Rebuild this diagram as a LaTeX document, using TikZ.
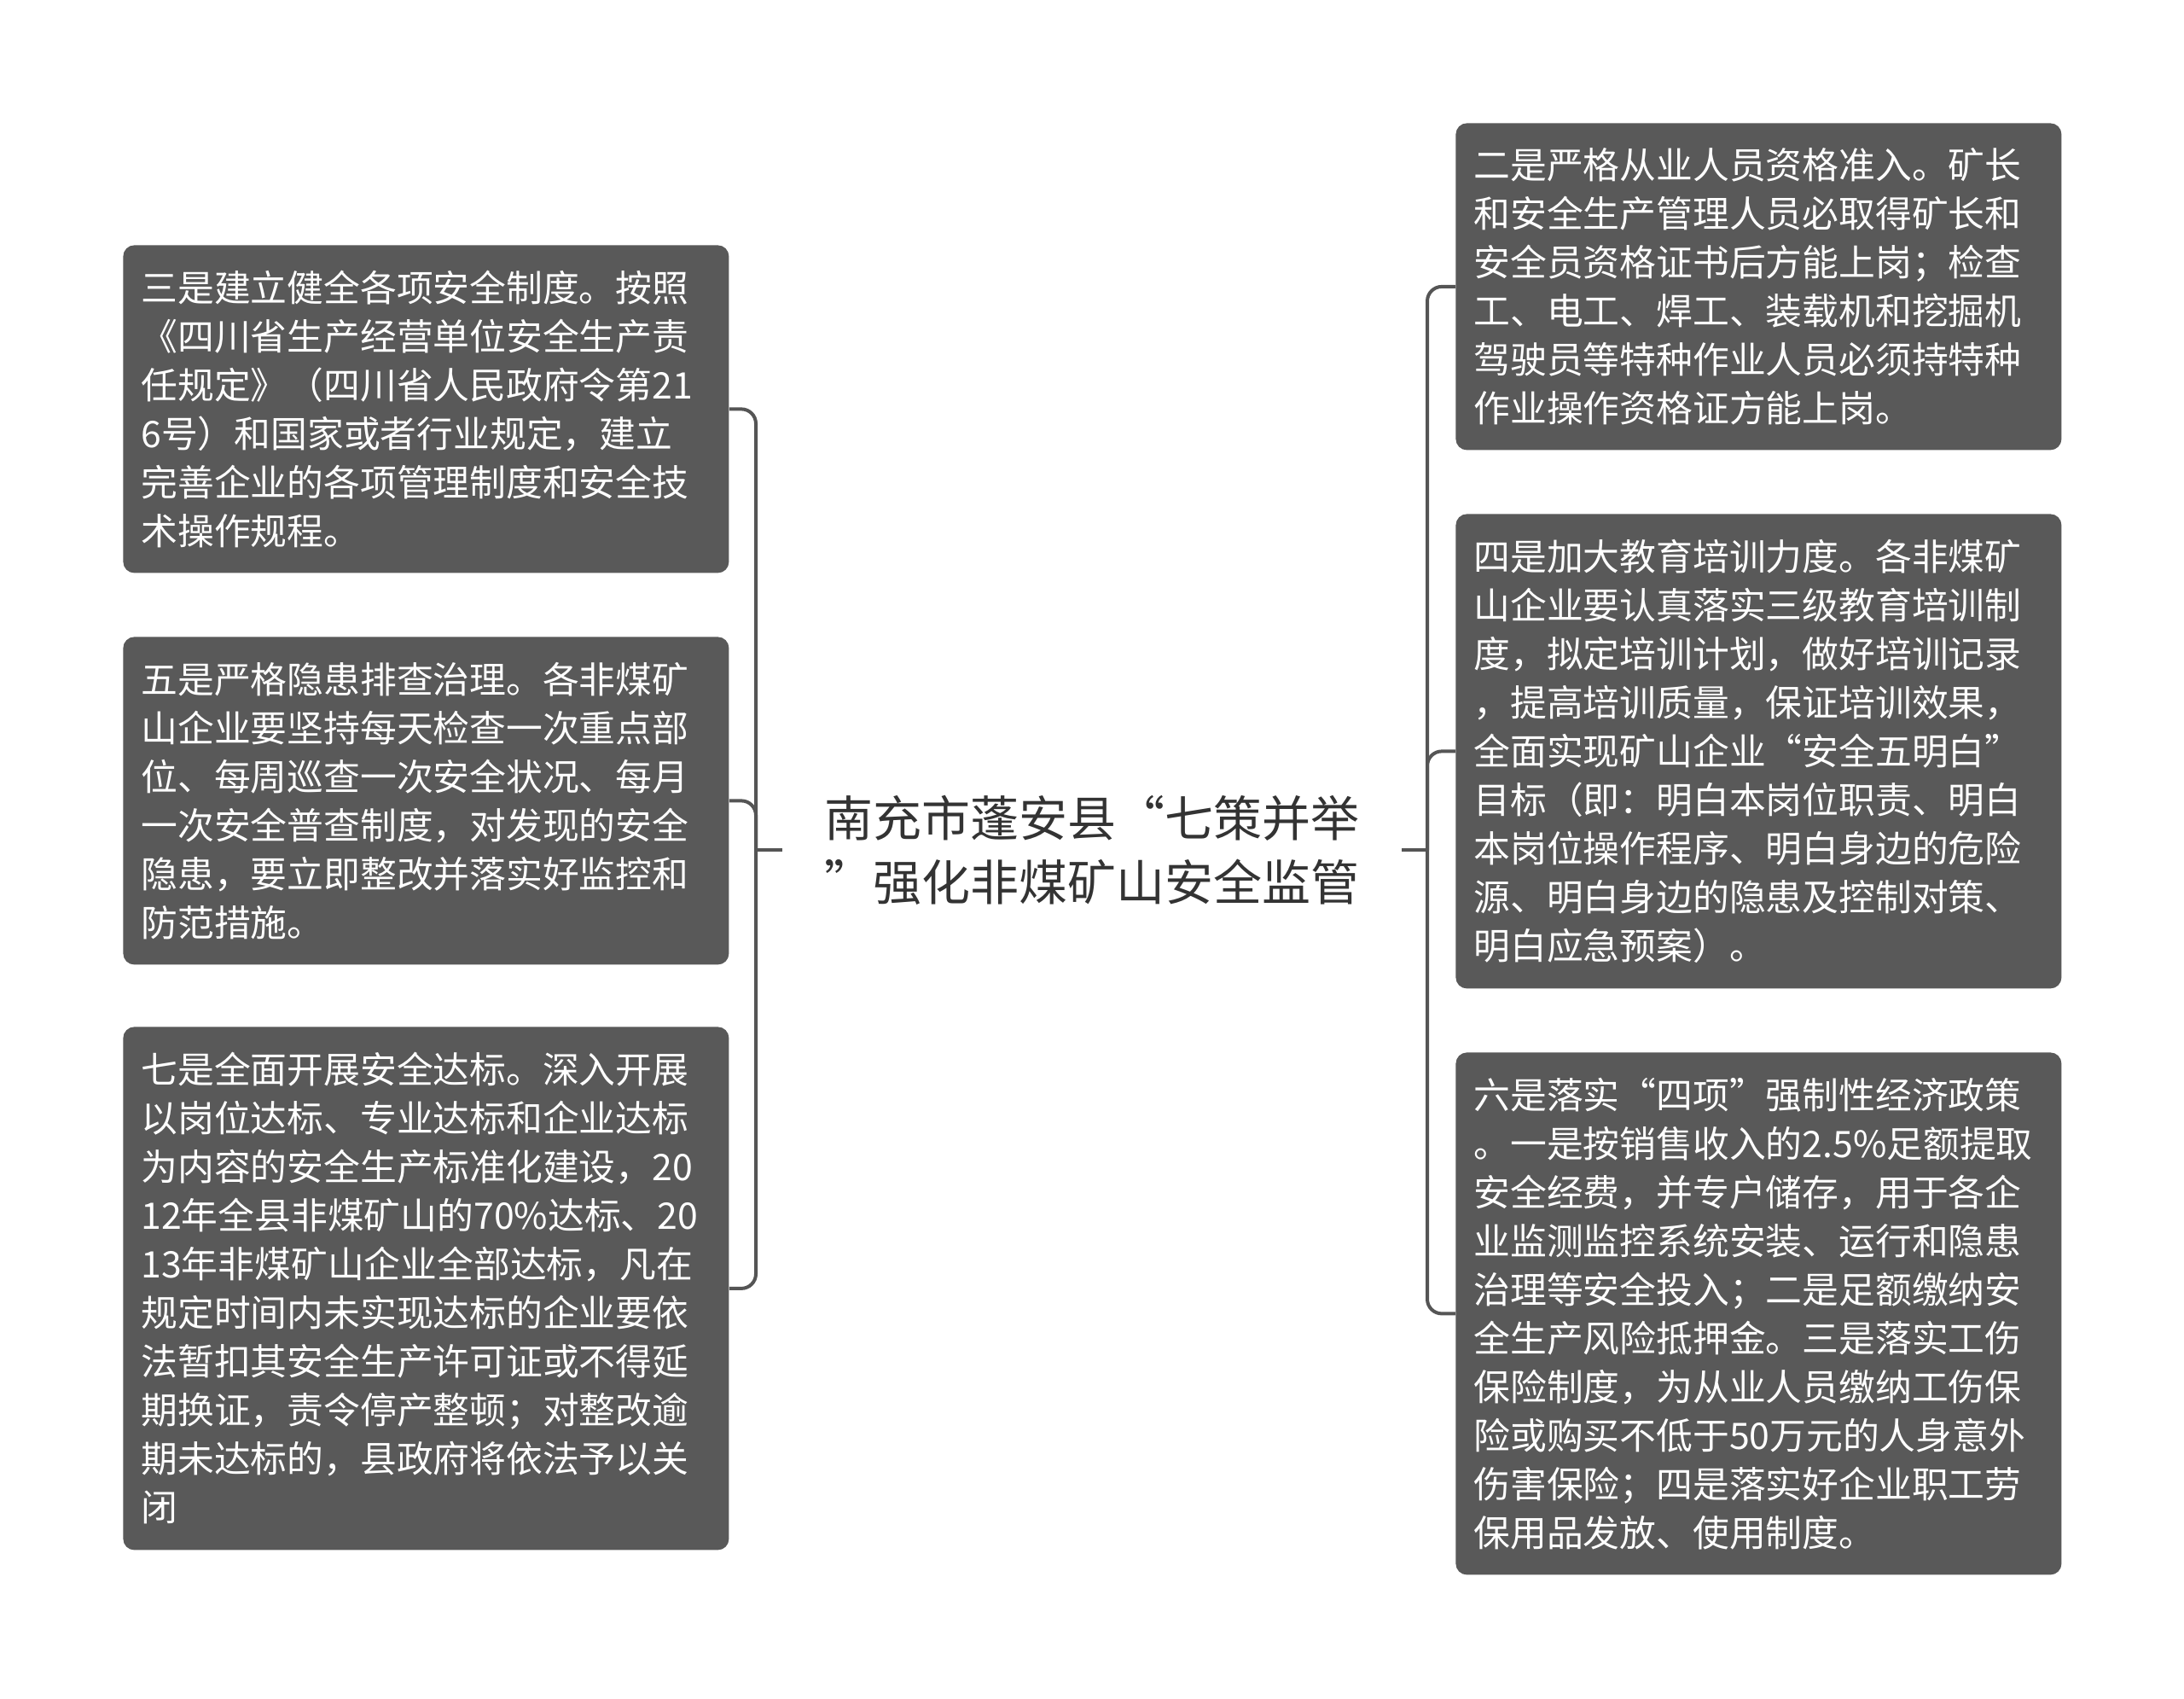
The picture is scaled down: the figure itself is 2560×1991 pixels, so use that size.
\documentclass[tikz,border=0pt]{standalone}
\usepackage{fontspec}
\setmainfont{Noto Sans CJK SC}
\definecolor{boxfill}{HTML}{595959}
\definecolor{linecol}{HTML}{555555}
\definecolor{titlecol}{HTML}{333333}
\tikzset{
  leafbox/.style={fill=boxfill, text=white, rounded corners=6.5pt, anchor=north west,
    minimum width=355pt, text width=334pt, inner xsep=10.5pt, inner ysep=0pt, align=left,
    font=\fontsize{21.4pt}{28.5pt}\selectfont},
  titlebox/.style={text=titlecol, minimum width=363pt, inner sep=0pt, align=center,
    font=\fontsize{28.5pt}{37.5pt}\selectfont},
  conn/.style={draw=linecol, line width=2pt},
  branch/.style={conn, rounded corners=8.5pt}
}
\begin{document}
\begin{tikzpicture}[x=0.5pt,y=-0.5pt]
\useasboundingbox (0,0) rectangle (2560,1991);
\fill[white] (0,0) rectangle (2560,1991);

\node[titlebox] (root) at (1280,996) {南充市蓬安县“七策并举\\”强化非煤矿山安全监管};

\node[leafbox, minimum height=192pt] (L1) at (144,287) {三是建立健全各项安全制度。按照\\《四川省生产经营单位安全生产责\\任规定》（四川省人民政府令第21\\6号）和国家或者行业规定，建立\\完善企业的各项管理制度和安全技\\术操作规程。};
\node[leafbox, minimum height=192pt] (L2) at (144,746) {五是严格隐患排查治理。各非煤矿\\山企业要坚持每天检查一次重点部\\位、每周巡查一次安全状况、每月\\一次安全普查制度，对发现的安全\\隐患，要立即整改并落实好监控和\\防范措施。};
\node[leafbox, minimum height=306.5pt] (L3) at (144,1203) {七是全面开展安全达标。深入开展\\以岗位达标、专业达标和企业达标\\为内容的安全生产标准化建设，20\\12年全县非煤矿山的70\%达标、20\\13年非煤矿山企业全部达标，凡在\\规定时间内未实现达标的企业要依\\法暂扣其安全生产许可证或不得延\\期换证，责令停产整顿；对整改逾\\期未达标的，县政府将依法予以关\\闭};

\node[leafbox, minimum height=191.5pt] (R1) at (1706,144) {二是严格从业人员资格准入。矿长\\和安全生产管理人员必取得矿长和\\安全员资格证书后方能上岗；检查\\工、电工、焊工、装载机和挖掘机\\驾驶员等特种作业人员必须持特种\\作业操作资格证方能上岗。};
\node[leafbox, minimum height=278pt] (R2) at (1706,602) {四是加大教育培训力度。各非煤矿\\山企业要认真落实三级教育培训制\\度，拟定培训计划，做好培训记录\\，提高培训质量，保证培训效果，\\全面实现矿山企业“安全五明白”\\目标（即：明白本岗位职责、明白\\本岗位操作程序、明白身边的危险\\源、明白身边的隐患及控制对策、\\明白应急预案）。};
\node[leafbox, minimum height=306pt] (R3) at (1706,1233) {六是落实“四项”强制性经济政策\\。一是按销售收入的2.5\%足额提取\\安全经费，并专户储存，用于各企\\业监测监控系统安装、运行和隐患\\治理等安全投入；二是足额缴纳安\\全生产风险抵押金。三是落实工伤\\保险制度，为从业人员缴纳工伤保\\险或购买不低于50万元的人身意外\\伤害保险；四是落实好企业职工劳\\保用品发放、使用制度。};

\coordinate (lt) at (886,996);
\coordinate (rt) at (1673,996);
\draw[conn] (root.west) -- (lt);
\draw[conn] (root.east) -- (rt);
\draw[branch] (lt) |- (L1.east);
\draw[branch] (lt) |- (L2.east);
\draw[branch] (lt) |- (L3.east);
\draw[branch] (rt) |- (R1.west);
\draw[branch] (rt) |- (R2.west);
\draw[branch] (rt) |- (R3.west);
\end{tikzpicture}
\end{document}
